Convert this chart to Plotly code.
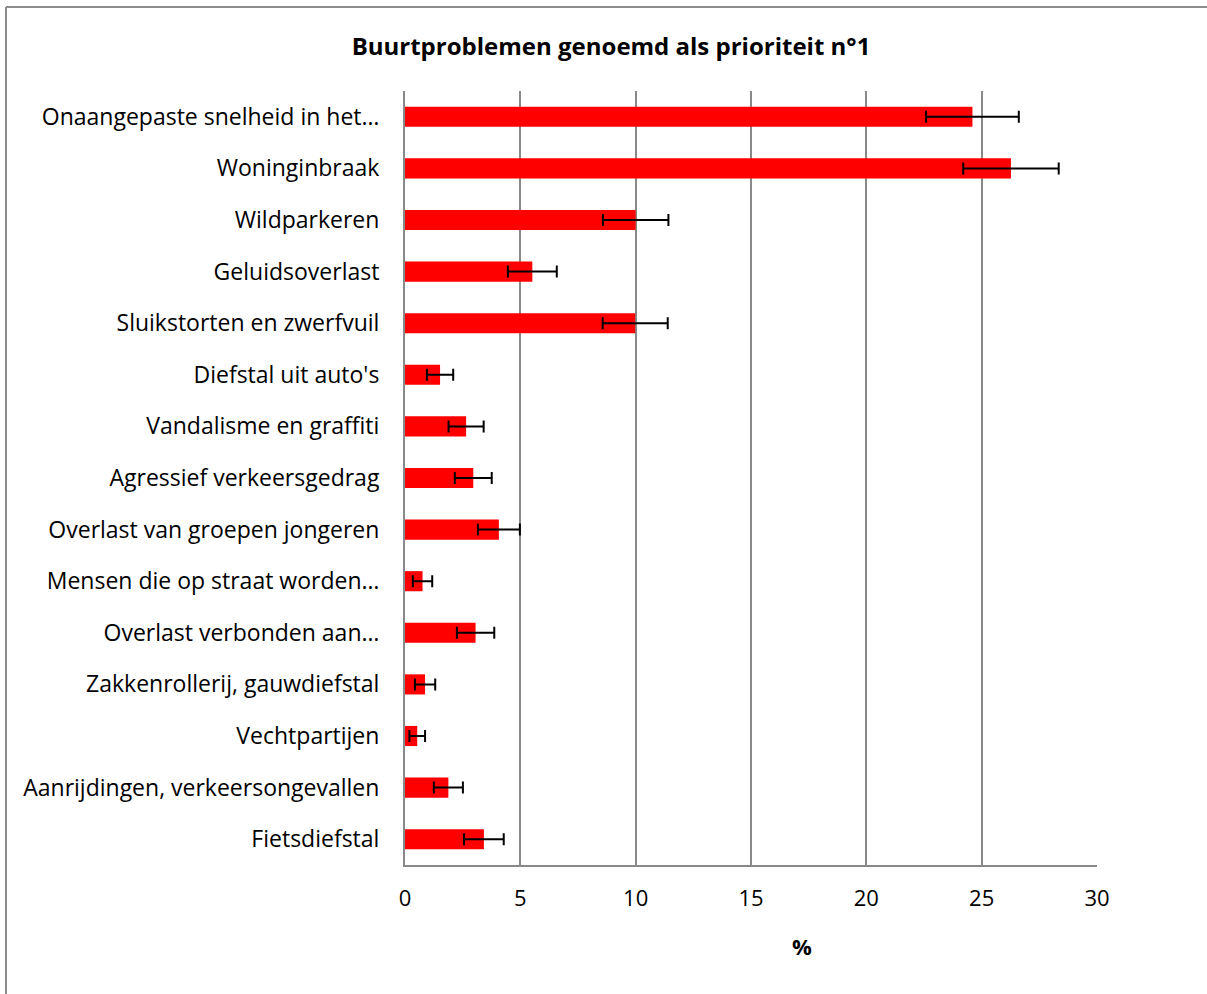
import plotly.graph_objects as go

categories = [
    "Onaangepaste snelheid in het…",
    "Woninginbraak",
    "Wildparkeren",
    "Geluidsoverlast",
    "Sluikstorten en zwerfvuil",
    "Diefstal uit auto's",
    "Vandalisme en graffiti",
    "Agressief verkeersgedrag",
    "Overlast van groepen jongeren",
    "Mensen die op straat worden…",
    "Overlast verbonden aan…",
    "Zakkenrollerij, gauwdiefstal",
    "Vechtpartijen",
    "Aanrijdingen, verkeersongevallen",
    "Fietsdiefstal",
]
values = [24.6, 26.27, 10.0, 5.52, 9.98, 1.52, 2.65, 2.96, 4.07, 0.76, 3.06, 0.87, 0.53, 1.88, 3.42]
errors = [2.01, 2.07, 1.42, 1.06, 1.41, 0.57, 0.76, 0.80, 0.91, 0.42, 0.81, 0.44, 0.34, 0.63, 0.86]
x_ticks = [0, 5, 10, 15, 20, 25, 30]

FONT = "Open Sans"
GRID = "#898989"

fig = go.Figure(
    go.Bar(
        x=values,
        y=categories,
        orientation="h",
        marker=dict(color="#FF0000", line=dict(width=0)),
        width=0.39,
        error_x=dict(type="data", array=errors, visible=True,
                     color="black", thickness=2, width=6),
    )
)

L, R, T, B = 405, 110, 91, 129
W, H = 1207, 994
pw, ph = W - L - R, H - T - B

def px(x):
    return (x - L) / pw

def py(y):
    return (H - B - y) / ph

fig.update_layout(
    width=W, height=H,
    margin=dict(l=L, r=R, t=T, b=B, pad=0),
    paper_bgcolor="white",
    plot_bgcolor="white",
    showlegend=False,
    bargap=0.6,
    title=dict(
        text="<b>Buurtproblemen genoemd als prioriteit n°1</b>",
        x=611 / W, xanchor="center",
        y=1 - 47 / H, yanchor="middle",
        font=dict(family=FONT, size=24, color="black"),
    ),
    font=dict(family=FONT, color="black"),
    xaxis=dict(
        range=[0, 30],
        tickvals=x_ticks,
        showgrid=True, gridcolor=GRID, gridwidth=1.5,
        showline=True, linecolor=GRID, linewidth=2,
        zeroline=False,
        ticks="", ticklabelstandoff=13,
        tickfont=dict(family=FONT, size=22, color="black"),
        fixedrange=True,
    ),
    yaxis=dict(
        autorange="reversed",
        showgrid=False,
        showline=True, linecolor=GRID, linewidth=2,
        ticks="", ticklabelstandoff=19,
        tickfont=dict(family=FONT, size=23, color="black"),
        fixedrange=True,
    ),
    annotations=[
        dict(text="<b>%</b>", xref="paper", yref="paper",
             x=px(802), y=py(946), xanchor="center", yanchor="middle",
             showarrow=False, font=dict(family=FONT, size=22, color="black")),
    ],
    shapes=[
        dict(type="line", xref="paper", yref="paper",
             x0=px(6), y0=py(7), x1=px(6), y1=py(H + 5),
             line=dict(color="#8c8c8c", width=2)),
        dict(type="line", xref="paper", yref="paper",
             x0=px(6), y0=py(7), x1=px(W + 5), y1=py(7),
             line=dict(color="#8c8c8c", width=2)),
    ],
)

fig.write_html("out.html", config={"displayModeBar": False},
               post_script="document.body.style.margin='0';")
